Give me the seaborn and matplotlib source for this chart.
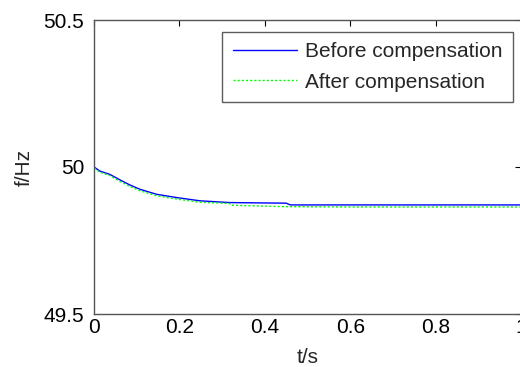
import matplotlib
matplotlib.use("Agg")
import matplotlib.pyplot as plt
import pandas as pd
import seaborn as sns

# Frequency trace (t in s, f in Hz)
t_before = [0.0, 0.014, 0.037, 0.061, 0.084, 0.108, 0.147, 0.194, 0.248, 0.318, 0.38, 0.45,
            0.46, 0.6, 0.8, 1.0]
f_before = [50.0, 49.986, 49.975, 49.956, 49.939, 49.924, 49.907, 49.896, 49.885, 49.879,
            49.878, 49.877, 49.871, 49.871, 49.871, 49.871]
t_after = [0.0, 0.014, 0.037, 0.061, 0.084, 0.108, 0.147, 0.194, 0.248, 0.318, 0.32, 0.45,
           0.6, 0.8, 1.0]
f_after = [49.997, 49.982, 49.971, 49.951, 49.934, 49.919, 49.902, 49.891, 49.880, 49.876,
           49.870, 49.865, 49.864, 49.864, 49.864]

x_ticks = [0, 0.2, 0.4, 0.6, 0.8, 1]
y_ticks = [49.5, 50, 50.5]

sns.set_style("white")
plt.rcParams["font.family"] = ["Liberation Sans", "DejaVu Sans"]

df = pd.concat([
    pd.DataFrame({"t": t_before, "f": f_before, "series": "Before compensation"}),
    pd.DataFrame({"t": t_after, "f": f_after, "series": "After compensation"}),
])

fig = plt.figure(figsize=(5.2, 3.67), dpi=100)
ax = fig.add_axes([94 / 520, 1 - 314 / 367, 427 / 520, 294 / 367])

sns.lineplot(data=df, x="t", y="f", hue="series", style="series",
             palette={"Before compensation": "#0000ff", "After compensation": "#00ff00"},
             dashes={"Before compensation": "", "After compensation": (1.5, 1.5)},
             linewidth=1.0, ax=ax)

ax.set_xlim(0, 1)
ax.set_ylim(49.5, 50.5)
ax.set_xticks(x_ticks)
ax.set_xticklabels(["0", "0.2", "0.4", "0.6", "0.8", "1"])
ax.set_yticks(y_ticks)
ax.set_yticklabels(["49.5", "50", "50.5"])
ax.tick_params(direction="in", length=4, width=0.8, labelsize=15, colors="#000000",
               top=True, right=True)
ax.tick_params(axis="x", pad=3)
ax.tick_params(axis="y", pad=7)
for s in ax.spines.values():
    s.set_color("#555555")
    s.set_linewidth(1.0)

ax.set_xlabel("t/s", fontsize=15, labelpad=8)
ax.set_ylabel("f/Hz", fontsize=15, labelpad=7)

leg = ax.legend(loc="upper right", bbox_to_anchor=(0.982, 0.96), fontsize=15,
                frameon=True, fancybox=False, handlelength=3.1, handletextpad=0.38,
                borderpad=0.5, labelspacing=0.55, borderaxespad=0)
leg.get_frame().set_edgecolor("#333333")
leg.get_frame().set_linewidth(1.0)

fig.savefig("out.png", dpi=100)
plt.close(fig)
